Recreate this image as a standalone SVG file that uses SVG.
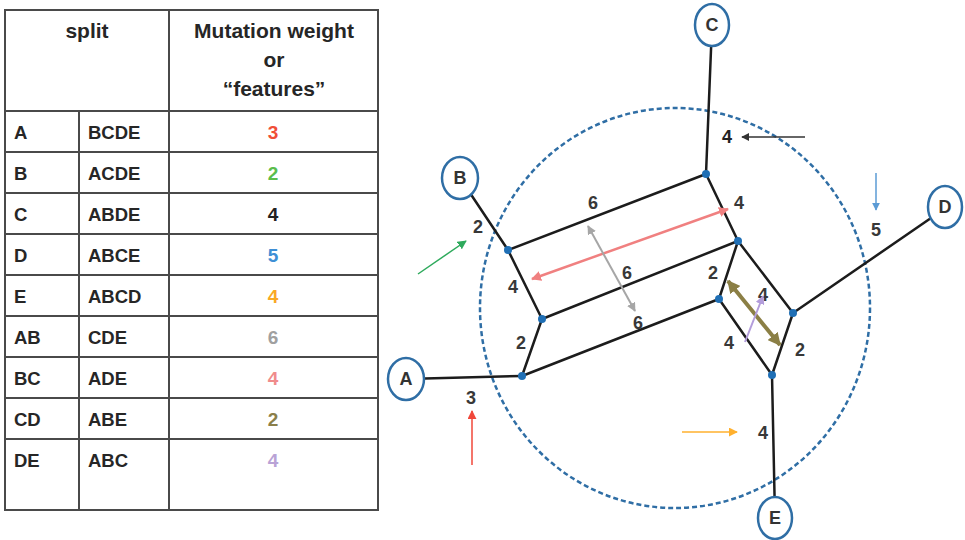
<svg xmlns="http://www.w3.org/2000/svg" width="965" height="540" viewBox="0 0 965 540">
<style>
text{font-family:"Liberation Sans","Noto Sans",Arial,sans-serif;fill:#262626;font-weight:bold}
.cell{font-size:18.5px}
.hd{font-size:21px;text-anchor:middle}
.num{font-size:19px;text-anchor:middle}
.grid{stroke:#4a4a4a;stroke-width:2;fill:none}
.edge{stroke:#1c1c1c;stroke-width:2.5;fill:none;stroke-linecap:round}
.node ellipse{fill:#fff;stroke:#2f6ea5;stroke-width:2.5}
.node text{font-size:18px;text-anchor:middle;fill:#333}
.dot{fill:#1f6fb5}
.lbl{font-size:18px;text-anchor:middle;fill:#383838}
</style>
<defs>
<marker id="hBlack" viewBox="0 0 10 10" refX="9" refY="5" markerWidth="8" markerHeight="8" markerUnits="userSpaceOnUse" orient="auto-start-reverse"><path d="M0,0L10,5L0,10z" fill="#333"/></marker>
<marker id="hBlue" viewBox="0 0 10 10" refX="9" refY="5" markerWidth="8" markerHeight="8" markerUnits="userSpaceOnUse" orient="auto-start-reverse"><path d="M0,0L10,5L0,10z" fill="#5b9bd5"/></marker>
<marker id="hGreen" viewBox="0 0 10 10" refX="9" refY="5" markerWidth="9" markerHeight="9" markerUnits="userSpaceOnUse" orient="auto-start-reverse"><path d="M0,0L10,5L0,10z" fill="#2eaa5c"/></marker>
<marker id="hRed" viewBox="0 0 10 10" refX="9" refY="5" markerWidth="9" markerHeight="9" markerUnits="userSpaceOnUse" orient="auto-start-reverse"><path d="M0,0L10,5L0,10z" fill="#f0473a"/></marker>
<marker id="hOrange" viewBox="0 0 10 10" refX="9" refY="5" markerWidth="9" markerHeight="9" markerUnits="userSpaceOnUse" orient="auto-start-reverse"><path d="M0,0L10,5L0,10z" fill="#ffb02e"/></marker>
<marker id="hPink" viewBox="0 0 10 10" refX="9" refY="5" markerWidth="10" markerHeight="10" markerUnits="userSpaceOnUse" orient="auto-start-reverse"><path d="M0,0L10,5L0,10z" fill="#f08080"/></marker>
<marker id="hGray" viewBox="0 0 10 10" refX="9" refY="5" markerWidth="9" markerHeight="9" markerUnits="userSpaceOnUse" orient="auto-start-reverse"><path d="M0,0L10,5L0,10z" fill="#a6a6a6"/></marker>
<marker id="hOlive" viewBox="0 0 10 10" refX="9" refY="5" markerWidth="13" markerHeight="13" markerUnits="userSpaceOnUse" orient="auto-start-reverse"><path d="M0,0L10,5L0,10z" fill="#8b7f45"/></marker>
<marker id="hPurple" viewBox="0 0 10 10" refX="9" refY="5" markerWidth="9" markerHeight="9" markerUnits="userSpaceOnUse" orient="auto-start-reverse"><path d="M0,0L10,5L0,10z" fill="#b39ddb"/></marker>
</defs>
<rect width="965" height="540" fill="#fff"/>

<g id="table">
<rect class="grid" x="5" y="10" width="373" height="500"/>
<line class="grid" x1="169" y1="10" x2="169" y2="510"/>
<line class="grid" x1="79" y1="111" x2="79" y2="510"/>
<line class="grid" x1="5" y1="111" x2="378" y2="111"/>
<line class="grid" x1="5" y1="152" x2="378" y2="152"/>
<line class="grid" x1="5" y1="193" x2="378" y2="193"/>
<line class="grid" x1="5" y1="234" x2="378" y2="234"/>
<line class="grid" x1="5" y1="275" x2="378" y2="275"/>
<line class="grid" x1="5" y1="316" x2="378" y2="316"/>
<line class="grid" x1="5" y1="357" x2="378" y2="357"/>
<line class="grid" x1="5" y1="398" x2="378" y2="398"/>
<line class="grid" x1="5" y1="439" x2="378" y2="439"/>
<text class="hd" x="87" y="38">split</text>
<text class="hd" x="274" y="38">Mutation weight</text>
<text class="hd" x="274" y="67">or</text>
<text class="hd" x="274" y="96">“features”</text>
<g class="cell">
<text x="14" y="139">A</text><text x="88" y="139">BCDE</text>
<text x="14" y="180">B</text><text x="88" y="180">ACDE</text>
<text x="14" y="221">C</text><text x="88" y="221">ABDE</text>
<text x="14" y="262">D</text><text x="88" y="262">ABCE</text>
<text x="14" y="303">E</text><text x="88" y="303">ABCD</text>
<text x="14" y="344">AB</text><text x="88" y="344">CDE</text>
<text x="14" y="385">BC</text><text x="88" y="385">ADE</text>
<text x="14" y="426">CD</text><text x="88" y="426">ABE</text>
<text x="14" y="467">DE</text><text x="88" y="467">ABC</text>
</g>
<text class="num" x="273" y="139" style="fill:#f04e37">3</text>
<text class="num" x="273" y="180" style="fill:#5bbd4c">2</text>
<text class="num" x="273" y="221" style="fill:#222">4</text>
<text class="num" x="273" y="262" style="fill:#3e8fd5">5</text>
<text class="num" x="273" y="303" style="fill:#f9a825">4</text>
<text class="num" x="273" y="344" style="fill:#a0a0a0">6</text>
<text class="num" x="273" y="385" style="fill:#f08c8c">4</text>
<text class="num" x="273" y="426" style="fill:#8b7f4a">2</text>
<text class="num" x="273" y="467" style="fill:#b9a3d6">4</text>
</g>

<ellipse id="boundary" cx="675" cy="308" rx="195" ry="200" fill="none" stroke="#2f6ea5" stroke-width="2.5" stroke-dasharray="5,3"/>

<g id="connectors">
<line class="edge" x1="712" y1="25" x2="706" y2="174"/>
<line class="edge" x1="460" y1="178" x2="508" y2="250"/>
<line class="edge" x1="406" y1="379" x2="522" y2="376"/>
<line class="edge" x1="947" y1="207" x2="793" y2="313"/>
<line class="edge" x1="772" y1="375" x2="775" y2="518"/>
<line class="edge" x1="706" y1="174" x2="508" y2="250"/>
<line class="edge" x1="508" y1="250" x2="542" y2="319"/>
<line class="edge" x1="542" y1="319" x2="522" y2="376"/>
<line class="edge" x1="542" y1="319" x2="738" y2="241"/>
<line class="edge" x1="522" y1="376" x2="719" y2="299"/>
<line class="edge" x1="706" y1="174" x2="738" y2="241"/>
<line class="edge" x1="738" y1="241" x2="719" y2="299"/>
<line class="edge" x1="738" y1="241" x2="793" y2="313"/>
<line class="edge" x1="719" y1="299" x2="772" y2="375"/>
<line class="edge" x1="793" y1="313" x2="772" y2="375"/>
</g>

<g id="vertices">
<circle class="dot" cx="706" cy="174" r="4"/>
<circle class="dot" cx="508" cy="250" r="4"/>
<circle class="dot" cx="542" cy="319" r="4"/>
<circle class="dot" cx="522" cy="376" r="4"/>
<circle class="dot" cx="738" cy="241" r="4"/>
<circle class="dot" cx="719" cy="299" r="4"/>
<circle class="dot" cx="793" cy="313" r="4"/>
<circle class="dot" cx="772" cy="375" r="4"/>
</g>

<g id="node-A" class="node"><ellipse cx="406" cy="379" rx="18" ry="21"/><text x="406" y="385">A</text></g>
<g id="node-B" class="node"><ellipse cx="460" cy="178" rx="18" ry="21"/><text x="460" y="184">B</text></g>
<g id="node-C" class="node"><ellipse cx="712" cy="25" rx="17" ry="21"/><text x="712" y="31">C</text></g>
<g id="node-D" class="node"><ellipse cx="945" cy="207" rx="17" ry="21"/><text x="945" y="213">D</text></g>
<g id="node-E" class="node"><ellipse cx="775" cy="518" rx="17" ry="21"/><text x="775" y="524">E</text></g>

<g id="edge-labels">
<text class="lbl" x="478" y="233">2</text>
<text class="lbl" x="593" y="209">6</text>
<text class="lbl" x="739" y="209">4</text>
<text class="lbl" x="513" y="293">4</text>
<text class="lbl" x="627" y="279">6</text>
<text class="lbl" x="713" y="279">2</text>
<text class="lbl" x="638" y="329">6</text>
<text class="lbl" x="521" y="349">2</text>
<text class="lbl" x="729" y="349">4</text>
<text class="lbl" x="763" y="301">4</text>
<text class="lbl" x="800" y="356">2</text>
<text class="lbl" x="727" y="143" style="fill:#222">4</text>
<text class="lbl" x="876" y="236">5</text>
<text class="lbl" x="471" y="404">3</text>
<text class="lbl" x="763" y="439">4</text>
</g>

<g id="arrows" fill="none">
<line x1="805" y1="137" x2="742" y2="137" stroke="#333" stroke-width="1.5" marker-end="url(#hBlack)"/>
<line x1="876" y1="173" x2="876" y2="210" stroke="#5b9bd5" stroke-width="1.5" marker-end="url(#hBlue)"/>
<line x1="418" y1="274" x2="466" y2="241" stroke="#2eaa5c" stroke-width="1.5" marker-end="url(#hGreen)"/>
<line x1="472" y1="465" x2="472" y2="411" stroke="#f0473a" stroke-width="1.5" marker-end="url(#hRed)"/>
<line x1="682" y1="432" x2="737" y2="432" stroke="#ffb02e" stroke-width="1.5" marker-end="url(#hOrange)"/>
<line x1="728" y1="209" x2="532" y2="279" stroke="#f08080" stroke-width="2.5" marker-start="url(#hPink)" marker-end="url(#hPink)"/>
<line x1="588" y1="226" x2="635" y2="311" stroke="#a6a6a6" stroke-width="2" marker-start="url(#hGray)" marker-end="url(#hGray)"/>
<line x1="728" y1="281" x2="780" y2="345" stroke="#8b7f45" stroke-width="4" marker-start="url(#hOlive)" marker-end="url(#hOlive)"/>
<line x1="745" y1="342" x2="763" y2="296" stroke="#b39ddb" stroke-width="2" marker-end="url(#hPurple)"/>
</g>
</svg>
